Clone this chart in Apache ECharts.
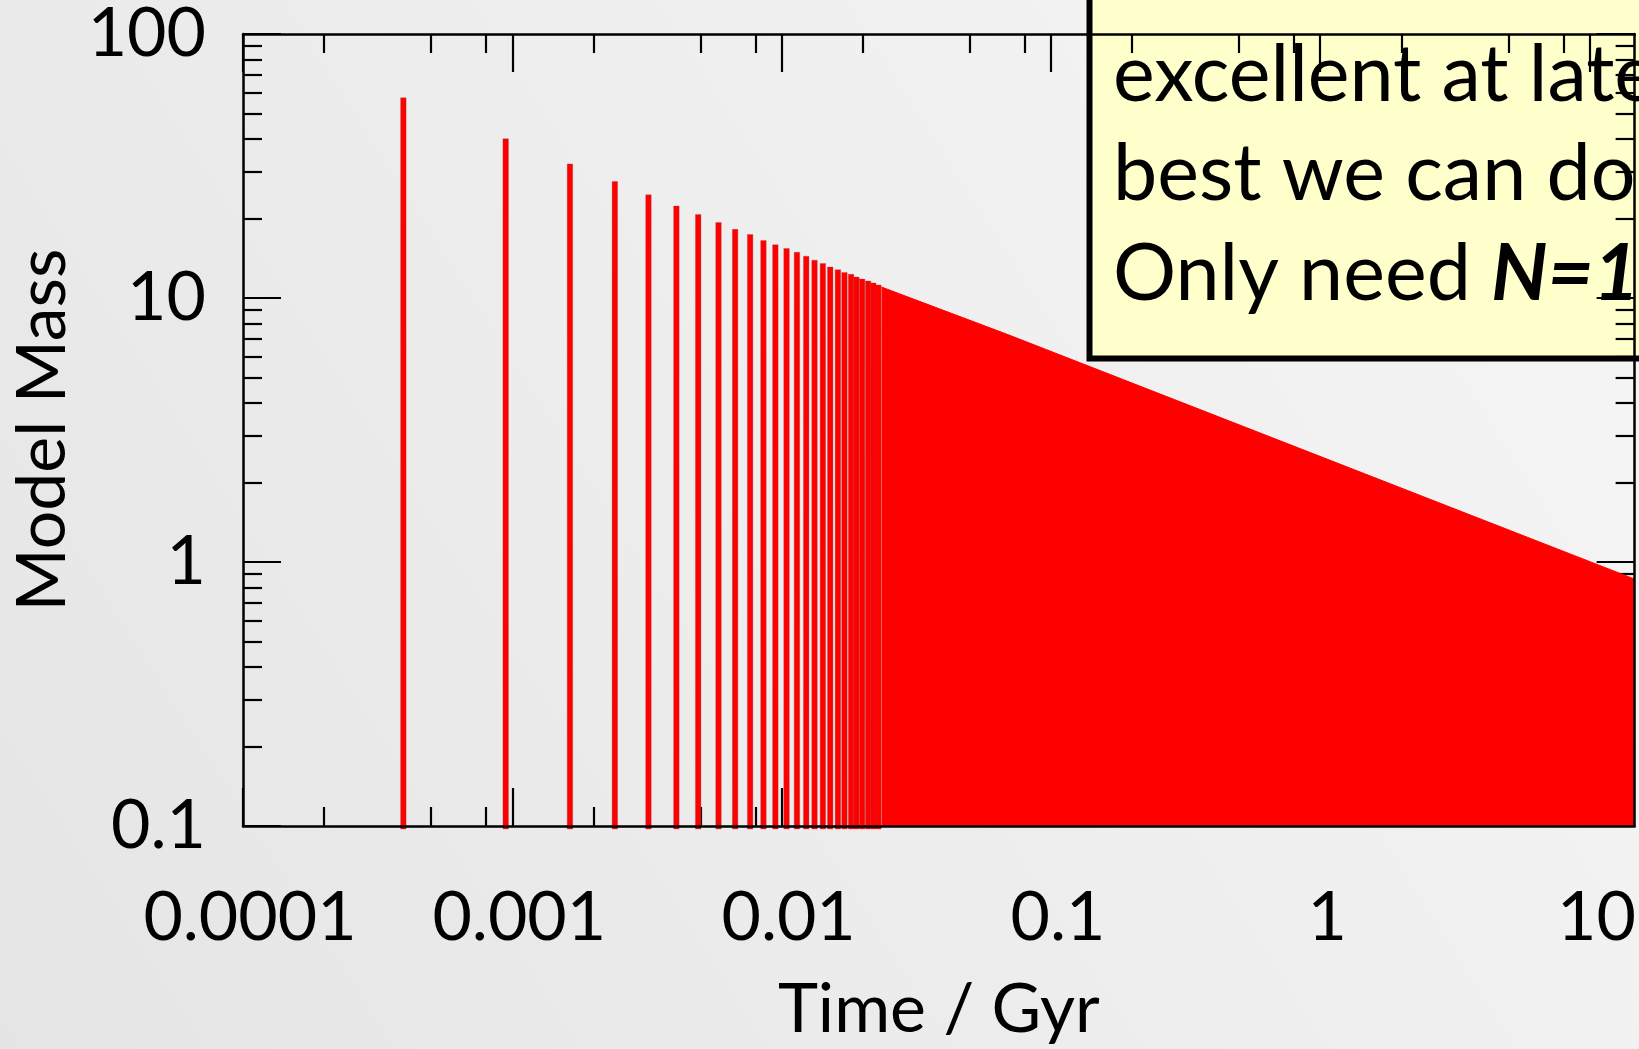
<!DOCTYPE html>
<html>
<head>
<meta charset="utf-8">
<script src="https://cdn.jsdelivr.net/npm/echarts@6/dist/echarts.min.js"></script>
<style>
  html, body { margin: 0; padding: 0; background: #eeeeee; }
  #chart { width: 1639px; height: 1049px; }
</style>
</head>
<body>
<div id="chart"></div>
<script>
// Individually resolved time bins: age (Gyr) and model mass
const spikeTimes = [
  0.000394, 0.000945, 0.001637, 0.002403, 0.003203, 0.004067, 0.00490,
  0.00583, 0.00672, 0.00764, 0.00856, 0.00948, 0.01043, 0.01140,
  0.01234, 0.01325, 0.01423, 0.01515, 0.01618, 0.01711, 0.01811,
  0.01895, 0.01990, 0.02095, 0.02190, 0.02287
];
const spikeMasses = [
  57.3, 40.1, 32.2, 27.6, 24.6, 22.3, 20.7,
  19.3, 18.2, 17.4, 16.5, 15.9, 15.4, 14.9,
  14.4, 13.9, 13.5, 13.1, 12.8, 12.5, 12.3,
  12.0, 11.8, 11.6, 11.4, 11.2
];
// Upper edge of the densely packed bins at later times
const envelopeTimes = [0.0235, 0.0691, 1.924, 14.64];
const envelopeMasses = [11.0, 7.27, 1.935, 0.863];

// Axis ranges and ticks
const xRange = [0.0001, 14.7];
const yRange = [0.1, 100];
const xMajorTicks = [0.0001, 0.001, 0.01, 0.1, 1, 10];
const xTickLabels = ['0.0001', '0.001', '0.01', '0.1', '1', '10'];
const xMinorTicks = [0.0002, 0.0005, 0.0008, 0.002, 0.005, 0.008, 0.02, 0.05, 0.08,
                     0.2, 0.5, 0.8, 2, 5, 8];
const yMajorTicks = [0.1, 1, 10, 100];
const yTickLabels = ['0.1', '1', '10', '100'];
const yMinorTicks = [0.2, 0.3, 0.4, 0.5, 0.6, 0.7, 0.8, 0.9,
                     2, 3, 4, 5, 6, 7, 8, 9,
                     20, 30, 40, 50, 60, 70, 80, 90];

const xTitle = 'Time / Gyr';
const yTitle = 'Model Mass';
const noteLines = ['excellent at late', 'best we can do'];
const noteLast = 'Only need ';
const noteEmphasis = 'N=1';

const FONT = 'Lato, "Open Sans", sans-serif';
const INK = '#000000';

function nearestLabel(values, labels) {
  return function (v) {
    let best = 0;
    const lv = Math.log10(v);
    values.forEach(function (t, i) {
      if (Math.abs(Math.log10(t) - lv) < Math.abs(Math.log10(values[best]) - lv)) best = i;
    });
    return labels[best];
  };
}

function baseAxis(range, extra) {
  const ax = {
    type: 'log',
    logBase: 10,
    min: range[0],
    max: range[1],
    z: 1,
    axisLine: { show: false, onZero: false },
    axisTick: { show: false },
    axisLabel: { show: false },
    splitLine: { show: false },
    minorTick: { show: false },
    minorSplitLine: { show: false }
  };
  return Object.assign(ax, extra);
}

function tickSet(values, len) {
  return {
    show: true, inside: true, length: len, customValues: values,
    lineStyle: { color: INK, width: 2.2 }
  };
}

const frameLine = { show: true, onZero: false, lineStyle: { color: INK, width: 2.5 } };

const xAxes = [
  baseAxis(xRange, {
    position: 'bottom', z: 10,
    axisLine: frameLine,
    axisLabel: {
      show: true, customValues: xMajorTicks, formatter: nearestLabel(xMajorTicks, xTickLabels),
      color: INK, fontFamily: FONT, fontSize: 68, margin: 58, padding: [0, 0, 0, 14]
    },
    name: xTitle, nameLocation: 'middle', nameGap: 150,
    nameTextStyle: { color: INK, fontFamily: FONT, fontSize: 68 }
  }),
  baseAxis(xRange, { position: 'bottom', axisTick: tickSet(xMajorTicks, 38) }),
  baseAxis(xRange, { position: 'bottom', axisTick: tickSet(xMinorTicks, 19) }),
  baseAxis(xRange, { position: 'top', z: 10, axisLine: frameLine, axisTick: tickSet(xMajorTicks, 38) }),
  baseAxis(xRange, { position: 'top', z: 10, axisTick: tickSet(xMinorTicks, 19) })
];

const yAxes = [
  baseAxis(yRange, {
    position: 'left', z: 10,
    axisLine: frameLine,
    axisTick: tickSet(yMajorTicks, 38),
    axisLabel: {
      show: true, customValues: yMajorTicks, formatter: nearestLabel(yMajorTicks, yTickLabels),
      color: INK, fontFamily: FONT, fontSize: 68, margin: 37, padding: [6, 0, 0, 0]
    },
    name: yTitle, nameLocation: 'middle', nameGap: 153,
    nameTextStyle: { color: INK, fontFamily: FONT, fontSize: 68 }
  }),
  baseAxis(yRange, { position: 'left', z: 10, axisTick: tickSet(yMinorTicks, 19) }),
  baseAxis(yRange, { position: 'right', z: 10, axisLine: frameLine }),
  baseAxis(yRange, { position: 'right', axisTick: tickSet(yMajorTicks, 38) }),
  baseAxis(yRange, { position: 'right', axisTick: tickSet(yMinorTicks, 19) })
];

const spikeData = spikeTimes.map(function (t, i) { return [t, spikeMasses[i]]; });
const envelopeData = envelopeTimes.map(function (t, i) { return [t, envelopeMasses[i]]; });

const chart = echarts.init(document.getElementById('chart'), null, { renderer: 'canvas' });

chart.setOption({
  animation: false,
  backgroundColor: {
    type: 'linear', x: 1, y: 0, x2: 0, y2: 1,
    colorStops: [{ offset: 0, color: '#f6f6f6' }, { offset: 1, color: '#e5e5e5' }]
  },
  grid: { left: 243, top: 31.5, width: 1395.2, height: 795.3, containLabel: false },
  xAxis: xAxes,
  yAxis: yAxes,
  series: [
    {
      // resolved bins as thin vertical bars rising from the bottom of the axis
      type: 'custom',
      xAxisIndex: 0, yAxisIndex: 0,
      data: spikeData,
      z: 2,
      renderItem: function (params, api) {
        const top = api.coord([api.value(0), api.value(1)]);
        const base = api.coord([api.value(0), yRange[0]]);
        const w = 5.5;
        return {
          type: 'rect',
          shape: { x: top[0] - w / 2, y: top[1], width: w, height: base[1] - top[1] + 3 },
          style: { fill: '#ff0000', stroke: 'rgba(150,70,70,0.45)', lineWidth: 0.7 }
        };
      }
    },
    {
      // the late-time bins are packed so closely they merge into a filled region
      type: 'line',
      xAxisIndex: 0, yAxisIndex: 0,
      data: envelopeData,
      z: 2,
      symbol: 'none',
      lineStyle: { color: '#ff0000', width: 1 },
      areaStyle: { color: '#ff0000', opacity: 1, origin: 'start' }
    }
  ],
  graphic: [
    {
      type: 'group', z: 100,
      children: [
        {
          type: 'rect',
          shape: { x: 1089.5, y: -20, width: 700, height: 378.5 },
          style: { fill: '#ffffcc', stroke: '#000000', lineWidth: 6 }
        },
        {
          type: 'text', x: 1113, y: 115,
          style: { text: noteLines[0], font: '79px ' + FONT, fill: INK, verticalAlign: 'bottom', lineHeight: 79 }
        },
        {
          type: 'text', x: 1113, y: 214,
          style: { text: noteLines[1], font: '79px ' + FONT, fill: INK, verticalAlign: 'bottom', lineHeight: 79 }
        },
        {
          type: 'text', x: 1113, y: 314,
          style: {
            text: noteLast + '{em|' + noteEmphasis + '}',
            font: '79px ' + FONT, fill: INK, verticalAlign: 'bottom', lineHeight: 79,
            rich: { em: { fontStyle: 'italic', fontWeight: 'bold', fontSize: 79, fontFamily: FONT, lineHeight: 79 } }
          }
        }
      ]
    }
  ]
});
</script>
</body>
</html>
